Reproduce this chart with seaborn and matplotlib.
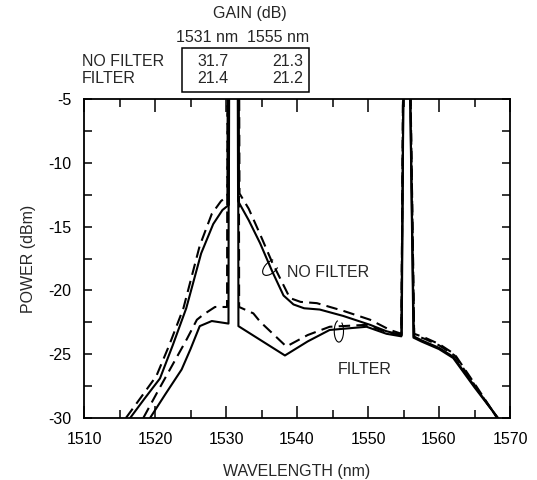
import numpy as np
import pandas as pd
import matplotlib
matplotlib.use("Agg")
import matplotlib.pyplot as plt
import seaborn as sns
from matplotlib.patches import Rectangle, Arc
from matplotlib.ticker import MultipleLocator

# ---------------- data ----------------
NF_SOLID_WL = [1516.5, 1518.5, 1520.7, 1522.5, 1524.4, 1526.5, 1528.2, 1529.5, 1530.4, 1530.45,
               1531.65, 1531.7, 1533.2, 1534.8, 1536.5, 1538.1, 1539.5, 1541.0, 1543.2, 1546.5,
               1550.3, 1552.6, 1554.75, 1555.0, 1555.9, 1556.45, 1557.5, 1560.0, 1562.0, 1565.0, 1568.3]
NF_SOLID_P = [-30, -28.5, -26.9, -24.3, -21.4, -17.1, -14.8, -13.7, -13.3, -3,
              -3, -13.0, -14.5, -16.3, -18.5, -20.4, -21.1, -21.4, -21.5, -22.0,
              -22.7, -23.2, -23.5, -3, -3, -23.6, -23.9, -24.5, -25.2, -27.5, -30]

NF_DASH_WL = [1515.9, 1518.0, 1520.2, 1522.0, 1524.0, 1526.3, 1528.0, 1529.3, 1530.2, 1530.25,
              1531.85, 1531.9, 1533.2, 1534.8, 1536.5, 1539.0, 1540.5, 1542.8, 1546.5, 1550.3,
              1553.1, 1554.7, 1554.95, 1555.95, 1556.5, 1558.0, 1560.0, 1562.2, 1565.0, 1568.2]
NF_DASH_P = [-30, -28.4, -26.7, -24.3, -21.4, -16.5, -14.0, -13.0, -12.6, -3,
             -3, -12.4, -13.6, -15.6, -17.8, -20.6, -20.9, -21.0, -21.6, -22.3,
             -23.1, -23.4, -3, -3, -23.4, -23.7, -24.2, -25.0, -27.3, -30]

F_SOLID_WL = [1519.3, 1521.5, 1523.75, 1525.0, 1526.3, 1528.0, 1530.35, 1530.4, 1531.7, 1531.75,
              1538.3, 1541.5, 1544.6, 1549.8, 1552.6, 1554.7, 1555.0, 1555.9, 1556.4, 1557.5,
              1560.0, 1562.0, 1565.0, 1568.3]
F_SOLID_P = [-30, -28.1, -26.2, -24.6, -22.8, -22.4, -22.6, -3, -3, -22.8,
             -25.1, -24.0, -23.1, -22.85, -23.4, -23.6, -3, -3, -23.7, -24.0,
             -24.6, -25.3, -27.6, -30]

F_DASH_WL = [1518.35, 1520.5, 1522.6, 1524.5, 1525.9, 1526.8, 1528.45, 1530.15, 1530.2, 1531.8,
             1531.85, 1533.85, 1534.8, 1538.5, 1541.5, 1544.6, 1549.8, 1552.8, 1554.7, 1554.95,
             1555.95, 1556.5, 1558.0, 1560.0, 1562.2, 1565.0, 1568.2]
F_DASH_P = [-30, -27.8, -25.7, -23.8, -22.3, -21.9, -21.3, -21.3, -3, -3,
            -21.3, -21.8, -22.45, -24.4, -23.5, -22.85, -22.7, -23.3, -23.5, -3,
            -3, -23.5, -23.8, -24.3, -25.1, -27.4, -30]

X_TICKS = [1510, 1520, 1530, 1540, 1550, 1560, 1570]
Y_TICKS = [-30, -25, -20, -15, -10, -5]

TABLE_TITLE = "GAIN (dB)"
TABLE_COLS = ["1531 nm", "1555 nm"]
TABLE_ROWS = ["NO FILTER", "FILTER"]
TABLE_VALUES = [["31.7", "21.3"], ["21.4", "21.2"]]

# ---------------- style ----------------
sns.set_style("ticks")
plt.rcParams["font.family"] = ["Liberation Sans", "DejaVu Sans"]
plt.rcParams["font.size"] = 11.5

W, H = 537, 480
fig = plt.figure(figsize=(W / 100, H / 100), dpi=100)
L, R, T, B = 84, 510, 99, 418
ax = fig.add_axes([L / W, 1 - B / H, (R - L) / W, (B - T) / H])

curves = [
    (NF_SOLID_WL, NF_SOLID_P, "-"),
    (NF_DASH_WL, NF_DASH_P, (0, (5.5, 3))),
    (F_SOLID_WL, F_SOLID_P, "-"),
    (F_DASH_WL, F_DASH_P, (0, (5.5, 3))),
]
for wl, p, ls in curves:
    df = pd.DataFrame({"wl": wl, "p": p})
    sns.lineplot(data=df, x="wl", y="p", sort=False, estimator=None, ax=ax,
                 color="black", linewidth=1.5, linestyle=ls)

ax.set_xlim(1510, 1570)
ax.set_ylim(-30, -5)
ax.set_xticks(X_TICKS)
ax.set_yticks(Y_TICKS)
ax.set_xticklabels([str(v) for v in X_TICKS])
ax.set_yticklabels([str(v) for v in Y_TICKS])
ax.xaxis.set_minor_locator(MultipleLocator(5))
ax.yaxis.set_minor_locator(MultipleLocator(2.5))
ax.tick_params(which="both", direction="in", top=True, right=True, width=1.1, colors="black")
ax.tick_params(axis="x", which="major", length=9, pad=10, labelsize=11.5)
ax.tick_params(axis="x", which="minor", length=5.5)
ax.tick_params(axis="y", which="both", length=5.5, pad=9, labelsize=11.5)
for s in ax.spines.values():
    s.set_visible(True)
    s.set_linewidth(1.3)
    s.set_color("black")

ax.set_xlabel("WAVELENGTH (nm)", fontsize=11.5, labelpad=12)
ax.set_ylabel("POWER (dBm)", fontsize=11.5, labelpad=9)

# annotations
ax.text(1538.6, -18.6, "NO FILTER", fontsize=11.5, ha="left", va="center")
ax.text(1545.7, -26.2, "FILTER", fontsize=11.5, ha="left", va="center")
ax.add_patch(Arc((1536.3, -18.2), 2.4, 1.0, angle=20, theta1=40, theta2=340,
                 lw=0.8, color="black"))
ax.add_patch(Arc((1545.9, -23.2), 1.3, 1.7, angle=0, theta1=100, theta2=420,
                 lw=0.8, color="black"))

# gain table above the axes
def fx(px):
    return px / W

def fy(py):
    return 1 - py / H

fig.text(fx(250), fy(13.5), TABLE_TITLE, ha="center", va="center", fontsize=11.5)
fig.text(fx(207.5), fy(37), TABLE_COLS[0], ha="center", va="center", fontsize=11.5)
fig.text(fx(278.5), fy(37), TABLE_COLS[1], ha="center", va="center", fontsize=11.5)
row_y = [61.7, 78.3]
col_x = [213, 288]
for i, rname in enumerate(TABLE_ROWS):
    fig.text(fx(81.7), fy(row_y[i]), rname, ha="left", va="center", fontsize=11.5)
    for j in range(2):
        fig.text(fx(col_x[j]), fy(row_y[i]), TABLE_VALUES[i][j], ha="center",
                 va="center", fontsize=11.5)
fig.patches.append(Rectangle((fx(181.7), fy(91.7)), fx(309.3) - fx(181.7),
                             fy(47.7) - fy(91.7), transform=fig.transFigure,
                             fill=False, lw=1.1, edgecolor="black"))

fig.savefig("out.png", dpi=100)
